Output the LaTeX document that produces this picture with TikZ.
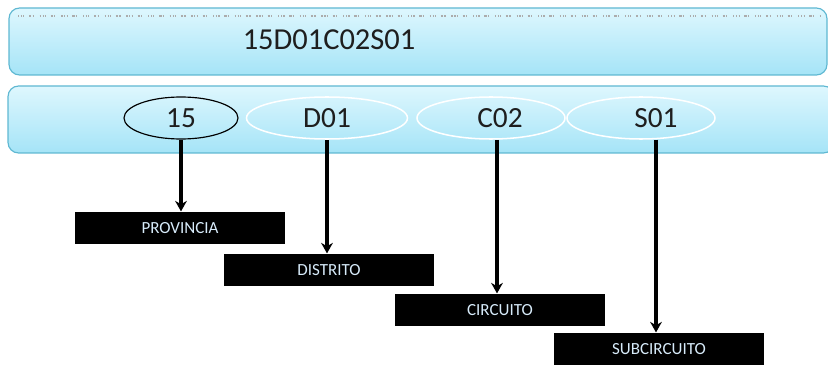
\documentclass[tikz,border=0pt]{standalone}
\usepackage{fontspec}
\setmainfont{Carlito}
\usetikzlibrary{shapes.geometric,arrows.meta}
\definecolor{barline}{RGB}{95,184,210}
\definecolor{bartop}{RGB}{222,247,254}
\definecolor{barbot}{RGB}{165,228,247}
\definecolor{inktext}{RGB}{30,30,30}
\definecolor{leveltext}{RGB}{215,235,250}

\begin{document}
\begin{tikzpicture}[x=0.03cm, y=-0.03cm,
  bar/.style={draw=barline, line width=1pt, rounded corners=9, top color=bartop, bottom color=barbot},
  part/.style={ellipse, draw=white, line width=1.3pt, minimum height=1.26cm, inner sep=0pt, text=inktext, font=\fontsize{25}{25}\selectfont},
  level/.style={fill=black, text=leveltext, minimum width=6.27cm, minimum height=0.98cm, inner sep=0pt, font=\fontsize{14.5}{14.5}\selectfont},
  down/.style={line width=3.2pt, -{Stealth[length=9pt, width=10pt]}}]
  \useasboundingbox (0,0) rectangle (828,367);

  % code bar
  \draw[bar] (9,8) rectangle (827,75);
  \draw[gray!65, line width=1.8pt, dash pattern=on 1pt off 1.5pt on 1pt off 1pt on 1pt off 4pt on 2pt off 1pt on 1pt off 5pt] (18,16) -- (822,16);
  \node[text=inktext, font=\fontsize{26}{26}\selectfont] (code) at (329,40) {15D01C02S01};

  % parts bar
  \draw[bar] (8,86) rectangle (834,153);
  \node[part, draw=black, line width=1pt, minimum width=3.42cm] (prov) at (181,118) {15};
  \node[part, minimum width=4.83cm] (dist) at (327,118) {D01};
  \node[part, minimum width=4.44cm, label={[xshift=0.27cm, text=inktext, font=\fontsize{25}{25}\selectfont]center:C02}] (circ) at (491,118) {};
  \node[part, minimum width=4.44cm, label={[xshift=0.45cm, text=inktext, font=\fontsize{25}{25}\selectfont]center:S01}] (subc) at (641,118) {};

  % levels
  \node[level] (lprov) at (180,228) {PROVINCIA};
  \node[level] (ldist) at (329,270) {DISTRITO};
  \node[level] (lcirc) at (500,310) {CIRCUITO};
  \node[level] (lsubc) at (659,349) {SUBCIRCUITO};

  \draw[down] (181,140) -- (181,140 |- lprov.north);
  \draw[down] (327,140) -- (327,140 |- ldist.north);
  \draw[down] (497,140) -- (497,140 |- lcirc.north);
  \draw[down] (656,140) -- (656,140 |- lsubc.north);
\end{tikzpicture}
\end{document}
